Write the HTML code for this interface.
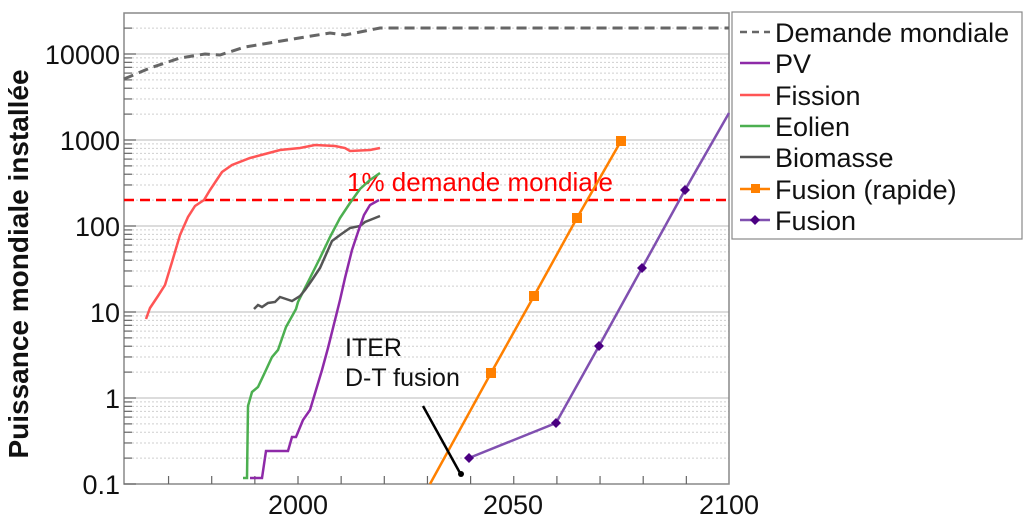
<!DOCTYPE html>
<html><head><meta charset="utf-8"><style>
html,body{margin:0;padding:0;background:#fff;width:1024px;height:522px;overflow:hidden}
svg{display:block;font-family:"Liberation Sans",Arial,sans-serif}
</style></head><body>
<svg width="1024" height="522" viewBox="0 0 1024 522" xmlns="http://www.w3.org/2000/svg">
<g stroke="#c8c8c8" stroke-width="1.2">
<line x1="124" y1="54" x2="729" y2="54"/><line x1="124" y1="140" x2="729" y2="140"/>
<line x1="124" y1="226" x2="729" y2="226"/><line x1="124" y1="312" x2="729" y2="312"/>
<line x1="124" y1="398" x2="729" y2="398"/>
</g>
<g stroke="#cfcfcf" stroke-width="1" stroke-dasharray="2,2" id="minor"></g>
<rect x="124" y="13" width="605" height="471" fill="none" stroke="#888" stroke-width="1.5"/>
<g id="ticks" stroke="#666" stroke-width="1.2"></g>
<g font-size="27" text-anchor="end" fill="#111">
<text x="120" y="64">10000</text><text x="120" y="150">1000</text><text x="120" y="236">100</text>
<text x="120" y="322">10</text><text x="120" y="408">1</text><text x="120" y="494">0.1</text>
</g>
<g font-size="27" text-anchor="middle" fill="#111">
<text x="298" y="514">2000</text><text x="513" y="514">2050</text><text x="729" y="514">2100</text>
</g>
<text transform="translate(28,264) rotate(-90)" font-size="28" font-weight="bold" text-anchor="middle" fill="#111">Puissance mondiale installée</text>
<polyline fill="none" stroke="#666" stroke-width="3" stroke-dasharray="10,6" points="124,79 150,68 180,58 205,54 220,55 245,47 275,42 305,37 330,33 345,35 380,28 729,28"/>
<line x1="124" y1="200" x2="729" y2="200" stroke="#f00" stroke-width="2.5" stroke-dasharray="10,6"/>
<text x="347" y="191" font-size="26" fill="#f00">1% demande mondiale</text>
<polyline fill="none" stroke="#ff5555" stroke-width="2.5" points="146,319 150,308 158,296 165,285 172,262 180,235 188,217 195,206 204,200 210,190 218,178 222,172 232,165 250,158 265,154 280,150 300,148 315,145 335,146 345,148 350,151 370,150 380,148"/>
<polyline fill="none" stroke="#4caf50" stroke-width="2.5" points="243,478 247,478 248,406 252,392 258,387 266,370 272,357 278,350 286,327 296,309 298,302 310,278 320,258 330,237 340,218 350,203 360,189 370,180 380,173"/>
<polyline fill="none" stroke="#555" stroke-width="2.5" points="254,309 258,305 262,307 268,303 275,302 280,297 286,299 292,301 300,296 305,290 312,280 320,268 332,241 340,235 350,228 360,226 365,222 370,220 380,216"/>
<polyline fill="none" stroke="#8e2aa8" stroke-width="2.5" points="250,478 262,478 266,451 288,451 292,437 296,437 303,420 310,410 316,390 322,370 328,348 335,320 340,300 345,278 352,250 358,232 364,215 370,205 379,200"/>
<polyline fill="none" stroke="#ff8000" stroke-width="2.5" points="430,484 491,373 534,296 577,218 621,141"/>
<g fill="#ff8000"><rect x="486" y="368" width="10" height="10"/><rect x="529" y="291" width="10" height="10"/><rect x="572" y="213" width="10" height="10"/><rect x="616" y="136" width="10" height="10"/></g>
<polyline fill="none" stroke="#8050b0" stroke-width="2.5" points="469,458 556,423 599,346 642,268 685,190 729,113"/>
<g fill="#4b0082">
<path d="M469,453 l5,5 -5,5 -5,-5z"/><path d="M556,418 l5,5 -5,5 -5,-5z"/><path d="M599,341 l5,5 -5,5 -5,-5z"/><path d="M642,263 l5,5 -5,5 -5,-5z"/><path d="M685,185 l5,5 -5,5 -5,-5z"/>
</g>
<text x="345" y="356" font-size="25" fill="#111">ITER</text>
<text x="345" y="386" font-size="25" fill="#111">D-T fusion</text>
<line x1="423" y1="406" x2="460" y2="473" stroke="#000" stroke-width="2.5"/>
<circle cx="461" cy="474" r="3" fill="#000"/>
<rect x="732" y="12" width="290" height="227" fill="#fff" stroke="#888" stroke-width="1.2"/>
<g stroke-width="2.5">
<line x1="740" y1="32" x2="770" y2="32" stroke="#666" stroke-dasharray="7,5"/>
<line x1="740" y1="63" x2="770" y2="63" stroke="#8e2aa8"/>
<line x1="740" y1="95" x2="770" y2="95" stroke="#ff5555"/>
<line x1="740" y1="126" x2="770" y2="126" stroke="#4caf50"/>
<line x1="740" y1="157" x2="770" y2="157" stroke="#555"/>
<line x1="740" y1="189" x2="770" y2="189" stroke="#ff8000"/>
<line x1="740" y1="220" x2="770" y2="220" stroke="#8050b0"/>
</g>
<rect x="751" y="184" width="9" height="9" fill="#ff8000"/>
<path d="M755,215 l5,5 -5,5 -5,-5z" fill="#4b0082"/>
<g font-size="27" fill="#111">
<text x="775" y="42">Demande mondiale</text><text x="775" y="73">PV</text><text x="775" y="105">Fission</text>
<text x="775" y="136">Eolien</text><text x="775" y="167">Biomasse</text><text x="775" y="199">Fusion (rapide)</text><text x="775" y="230">Fusion</text>
</g>
<script>
(function(){
var ns="http://www.w3.org/2000/svg",m=document.getElementById("minor"),t=document.getElementById("ticks");
function L(g,x1,y1,x2,y2){var l=document.createElementNS(ns,"line");l.setAttribute("x1",x1);l.setAttribute("y1",y1);l.setAttribute("x2",x2);l.setAttribute("y2",y2);g.appendChild(l);}
for(var d=-1;d<5;d++){for(var k=2;k<10;k++){var y=398-86*(d+Math.log10(k));if(y<13)continue;L(m,124,y,729,y);L(t,124,y,132,y);}
var yy=398-86*d;L(t,124,yy,136,yy);}
for(var yr=1970;yr<2100;yr+=10){var x=298+4.315*(yr-2000);L(t,x,484,x,476);}
})();
</script>
</svg>
</body></html>
